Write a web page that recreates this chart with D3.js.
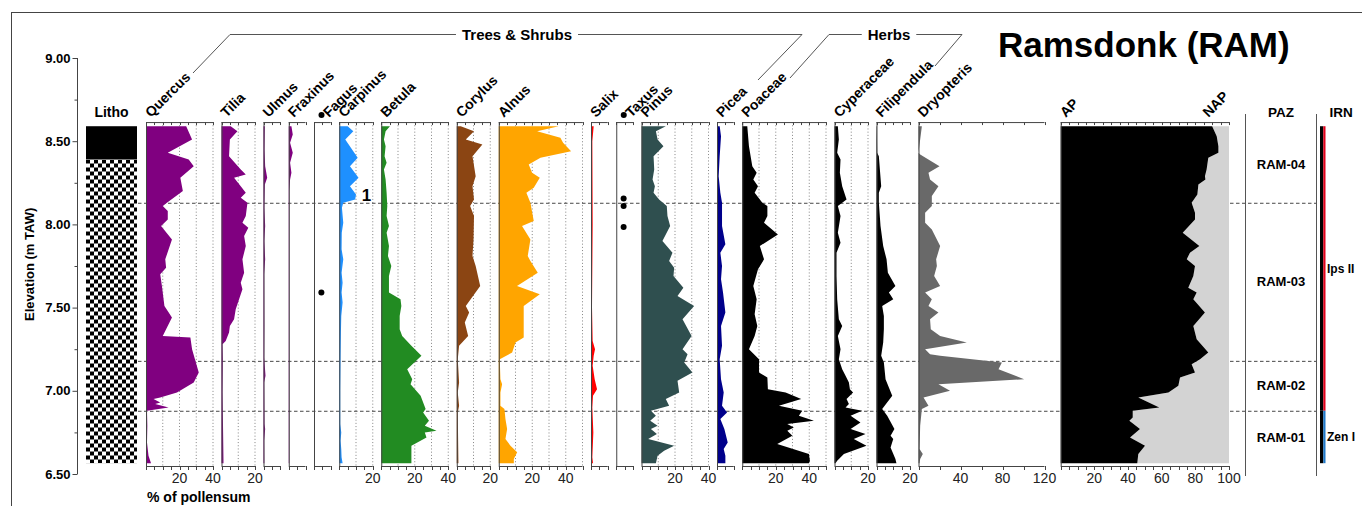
<!DOCTYPE html>
<html>
<head>
<meta charset="utf-8">
<script src="https://cdn.jsdelivr.net/npm/d3@7"></script>
<style>
  body { margin: 0; background: #fff; }
  svg { display: block; }
  text { font-family: "Liberation Sans", Arial, Helvetica, sans-serif; }
</style>
</head>
<body>
<svg id="chart" width="1362" height="506"></svg>
<script>
// ---- Core data: [elevation (m TAW), % of pollensum] per taxon ----
const quercus = [[8.59,24],[8.51,27.5],[8.43,13],[8.39,25.5],[8.35,28.5],[8.28,20.5],[8.20,22],[8.13,12.5],[8.11,10],[8.08,13],[8.03,13],[7.99,9],[7.91,15.5],[7.79,11.5],[7.74,12],[7.70,8.5],[7.63,9.5],[7.51,11],[7.44,15.5],[7.33,10],[7.32,26.5],[7.25,27.5],[7.11,31.5],[7.05,28.5],[6.99,18.5],[6.96,8.5],[6.95,4.5],[6.93,8.5],[6.92,5.5],[6.90,13.5],[6.88,0.6],[6.79,0.8],[6.69,0.6],[6.61,1.5],[6.565,3]];
const tilia = [[8.59,5.5],[8.56,9.5],[8.51,5],[8.41,4.5],[8.33,11.5],[8.30,14.5],[8.28,7.5],[8.23,11.5],[8.19,14.5],[8.16,11.5],[8.13,15.5],[8.05,14.5],[8.01,12.5],[7.98,16],[7.93,13.5],[7.87,14.5],[7.79,12.5],[7.71,13.5],[7.65,11.5],[7.61,12.5],[7.55,10.5],[7.49,8.5],[7.43,7.5],[7.39,5],[7.35,4.5],[7.30,2.5],[7.28,0.6],[7.19,0.8],[6.99,0.6],[6.79,0.9],[6.565,1.2]];
const ulmus = [[8.59,0.8],[8.45,0.6],[8.35,1],[8.28,2.2],[8.24,0.8],[8.10,0.5],[7.99,1],[7.90,0.5],[7.79,1],[7.70,0.4],[7.40,0.5],[7.20,0.4],[7.09,1.2],[7.05,0.4],[6.80,0.6],[6.77,1],[6.70,0.4],[6.565,0.5]];
const fraxinus = [[8.59,1.6],[8.54,2.4],[8.49,0.8],[8.43,2.4],[8.37,0.8],[8.31,1.6],[8.27,0.8],[8.20,0.3],[6.565,0.3]];
const fagusDots = [7.59];
const carpinus = [[8.59,5],[8.56,8.4],[8.51,3.6],[8.40,11],[8.35,6.4],[8.28,11.5],[8.23,6.4],[8.18,10],[8.15,9.5],[8.13,2.4],[8.10,1.6],[8.01,2.4],[7.95,1.5],[7.85,1.4],[7.79,2.4],[7.71,1.4],[7.65,2],[7.59,1.4],[7.53,2],[7.45,1.2],[7.35,1],[7.20,0.8],[7.00,0.6],[6.80,0.6],[6.75,1.2],[6.70,0.8],[6.65,1.2],[6.60,1.4],[6.565,2]];
const betula = [[8.59,5.2],[8.56,2.6],[8.51,1.6],[8.47,2.6],[8.41,2],[8.37,3.2],[8.33,1.6],[8.27,2.6],[8.19,3.2],[8.11,3.6],[8.05,3.2],[7.99,4.6],[7.95,3.2],[7.87,4.6],[7.81,4],[7.75,6],[7.69,4.6],[7.59,4.6],[7.55,11.5],[7.51,12],[7.45,11],[7.37,11],[7.33,12.5],[7.27,18],[7.21,24],[7.13,15.5],[7.07,18.5],[7.04,17.5],[6.97,23.5],[6.89,26.5],[6.87,25],[6.82,28.5],[6.79,26],[6.76,33],[6.75,26],[6.72,27],[6.67,18],[6.565,18]];
const corylus = [[8.59,2.4],[8.56,10.3],[8.51,5.4],[8.48,15.3],[8.41,9.4],[8.29,11.3],[8.23,9.4],[8.15,10.3],[8.11,8],[8.05,10.3],[7.91,10],[7.81,9.4],[7.75,11.3],[7.63,14],[7.51,5.4],[7.47,7.4],[7.41,4.8],[7.33,6.8],[7.27,1.4],[7.19,0.6],[7.05,1.4],[6.99,0.6],[6.91,1.4],[6.87,0.6],[6.565,1]];
const alnus = [[8.59,35.8],[8.56,22.9],[8.52,36.8],[8.49,38.4],[8.44,43.2],[8.40,24.9],[8.36,17.9],[8.31,19.9],[8.28,24.5],[8.22,20.9],[8.19,16.5],[8.13,18.9],[8.02,20.9],[7.99,13.9],[7.91,18.9],[7.81,17.3],[7.78,18.9],[7.71,23.3],[7.63,10.9],[7.58,24.5],[7.51,14.9],[7.39,14.9],[7.32,14.9],[7.29,10],[7.23,8],[7.19,0.6],[7.07,1],[7.04,2],[6.99,1],[6.91,1],[6.89,3.4],[6.83,4],[6.77,5],[6.71,4],[6.67,7],[6.63,11],[6.59,9],[6.565,9]];
const salix = [[8.59,1.6],[8.50,0.8],[8.00,1],[7.50,0.6],[7.30,1],[7.25,2.4],[7.21,1.6],[7.15,1],[7.07,2.2],[7.01,3.6],[6.97,1.2],[6.90,0.8],[6.75,1.4],[6.70,1.2],[6.60,0.8],[6.565,1.2]];
const taxusDots = [8.155, 8.11, 7.985];
const pinus = [[8.59,14.5],[8.56,8.6],[8.51,9.6],[8.47,13.1],[8.41,7.2],[8.33,7.6],[8.27,6.6],[8.23,8],[8.19,7.2],[8.15,10.5],[8.11,15.1],[8.05,15.5],[7.99,17.1],[7.90,12.5],[7.83,18.5],[7.78,16.5],[7.74,19.5],[7.69,19.1],[7.62,25],[7.57,21.5],[7.51,31.4],[7.43,24.5],[7.33,29.9],[7.25,24.5],[7.22,27.5],[7.17,25.5],[7.11,30.4],[7.06,21.5],[6.99,22.5],[6.95,14.5],[6.91,16.5],[6.88,5.6],[6.85,8.6],[6.82,5.2],[6.79,9.6],[6.77,5.6],[6.74,9.2],[6.71,4],[6.67,19.5],[6.64,13.5],[6.61,9.6],[6.565,8.6]];
const picea = [[8.59,1.6],[8.53,2.4],[8.41,1.6],[8.29,1],[8.19,2],[8.13,3],[7.99,3],[7.88,5],[7.83,2],[7.75,3],[7.67,2.4],[7.59,3.6],[7.47,5],[7.39,2.4],[7.27,3],[7.19,1.6],[7.07,2.4],[6.99,4],[6.91,3],[6.87,6],[6.83,2],[6.77,4.4],[6.69,6.4],[6.65,4],[6.61,5],[6.565,5]];
const poaceae = [[8.59,3],[8.47,4],[8.35,6],[8.31,8.6],[8.27,6.6],[8.23,9.4],[8.19,7.4],[8.13,12],[8.11,15],[8.05,15],[8.01,13],[7.94,21.3],[7.87,10.5],[7.79,13],[7.73,9.4],[7.63,6.6],[7.55,8.6],[7.46,7.4],[7.39,9],[7.33,7.4],[7.25,4],[7.19,10],[7.11,10],[7.08,15],[7.01,15.3],[6.99,25.9],[6.95,35.2],[6.91,21.9],[6.88,35.8],[6.85,33.8],[6.82,42.8],[6.80,26.9],[6.78,30.8],[6.76,26.9],[6.73,29.9],[6.68,20.9],[6.62,39.8],[6.58,40.4],[6.565,39.8]];
const cyperaceae = [[8.59,2],[8.51,2.6],[8.43,1.6],[8.39,3.6],[8.31,3.2],[8.23,4.6],[8.15,7.2],[8.11,2],[8.05,3.6],[7.95,2],[7.89,3.6],[7.83,1.2],[7.69,1.2],[7.55,1.6],[7.43,2.6],[7.39,4.6],[7.33,2],[7.25,3.6],[7.19,2.6],[7.13,4.6],[7.09,6.6],[7.05,8.6],[7.01,9.2],[6.99,11.1],[6.95,7.2],[6.92,8.6],[6.90,6.6],[6.88,16.5],[6.85,9.6],[6.81,15.5],[6.77,9.6],[6.74,18.5],[6.71,11.5],[6.67,19.1],[6.62,5.6],[6.58,1.6],[6.565,0.6]];
const filipendula = [[8.59,0.2],[8.43,0.4],[8.41,1.4],[8.23,2.8],[8.19,1.4],[8.13,1.4],[7.99,2.4],[7.87,4],[7.79,6],[7.71,6.8],[7.63,11.3],[7.59,7.4],[7.55,10],[7.51,3.4],[7.45,4.4],[7.37,4.4],[7.29,4],[7.21,2.8],[7.17,4.4],[7.07,5.4],[6.97,9.4],[6.89,3.4],[6.85,6.4],[6.77,10.7],[6.73,8.4],[6.71,10],[6.66,8.4],[6.59,11.3],[6.565,11.9]];
const dryopteris = [[8.59,3.2],[8.51,1.6],[8.43,0],[8.42,1.6],[8.35,20],[8.31,9.5],[8.27,11],[8.23,19],[8.17,12.7],[8.11,12.7],[8.07,6.3],[8.01,6.3],[7.97,12.7],[7.87,20.6],[7.79,16.8],[7.75,17.5],[7.69,14.9],[7.63,20.6],[7.59,6.3],[7.55,12.7],[7.51,9.5],[7.47,19],[7.43,11],[7.37,11.7],[7.33,20.6],[7.29,46],[7.25,6.3],[7.22,11],[7.21,20.6],[7.17,79.4],[7.13,76.2],[7.07,100.6],[7.04,19],[7.00,30],[6.96,4.8],[6.91,9.5],[6.89,3.2],[6.79,1.6],[6.65,1],[6.62,4.1],[6.59,1.6],[6.565,1]];
const arborealPollen = [[8.59,90],[8.53,92.7],[8.47,93.7],[8.43,93.7],[8.40,87.7],[8.33,86.7],[8.29,85.7],[8.27,86],[8.24,81.8],[8.18,81.2],[8.13,77.8],[8.07,79.8],[8.03,79.8],[7.95,72.5],[7.87,82.4],[7.83,76.8],[7.79,74.9],[7.75,79.8],[7.69,78.8],[7.62,75.8],[7.59,80.8],[7.55,78.8],[7.47,85.7],[7.39,78.8],[7.31,80.8],[7.23,87.7],[7.19,82.8],[7.16,77.8],[7.11,79.8],[7.08,70.9],[7.03,69.9],[6.99,64],[6.96,46.1],[6.90,58.6],[6.88,42.8],[6.84,42.8],[6.82,40.8],[6.77,47.1],[6.72,41.2],[6.67,50.1],[6.62,46.1],[6.565,45.5]];

// ---- Stratigraphy and zonation ----
const lithoUnits = [{top: 8.59, bottom: 8.39, kind: "solid"}, {top: 8.39, bottom: 6.565, kind: "checker"}];
const zoneBounds = [8.13, 7.18, 6.88];
const pazNames = ["RAM-04", "RAM-03", "RAM-02", "RAM-01"];
const irnUnits = [{name: "Ips II", top: 8.59, bottom: 6.88, color: "#e0001b"}, {name: "Zen I", top: 6.88, bottom: 6.565, color: "#1f78c8"}];
const yMajorTicks = [9.0, 8.5, 8.0, 7.5, 7.0, 6.5];
const yMinorTicks = [8.75, 8.25, 7.75, 7.25, 6.75];
const dataTop = 8.59, dataBottom = 6.565;

// ---- Panels (trees & shrubs, then herbs, then fern) ----
const panels = [
  {name: "Quercus", series: quercus, max: 40},
  {name: "Tilia", series: tilia, max: 20},
  {name: "Ulmus", series: ulmus, max: 10, noGrid: true},
  {name: "Fraxinus", series: fraxinus, max: 10, noGrid: true},
  {name: "Fagus", dots: fagusDots, max: 10, noGrid: true},
  {name: "Carpinus", series: carpinus, max: 20},
  {name: "Betula", series: betula, max: 40},
  {name: "Corylus", series: corylus, max: 20},
  {name: "Alnus", series: alnus, max: 50},
  {name: "Salix", series: salix, max: 10, noGrid: true},
  {name: "Taxus", dots: taxusDots, max: 10, noGrid: true},
  {name: "Pinus", series: pinus, max: 40},
  {name: "Picea", series: picea, max: 10, noGrid: true},
  {name: "Poaceae", series: poaceae, max: 50},
  {name: "Cyperaceae", series: cyperaceae, max: 20},
  {name: "Filipendula", series: filipendula, max: 20, noGrid: true},
  {name: "Dryopteris", series: dryopteris, max: 120, noGrid: true, wide: true}
];
const fillColor = {
  Quercus: "#800080", Tilia: "#800080", Ulmus: "#800080", Fraxinus: "#800080",
  Fagus: "#000", Carpinus: "#1e90ff", Betula: "#228b22", Corylus: "#8b4513",
  Alnus: "#ffa500", Salix: "#ff0000", Taxus: "#000", Pinus: "#2f4f4f",
  Picea: "#00008b", Poaceae: "#000", Cyperaceae: "#000", Filipendula: "#000",
  Dryopteris: "#696969"
};

const svg = d3.select("#chart");
const FONT = '"Liberation Sans", Arial, Helvetica, sans-serif';
const AXIS_COLOR = "#444";

// Elevation scale shared by every column
const y = d3.scaleLinear().domain([9, 6.5]).range([58, 474]);
const axisTop = y(8.615), axisBottom = y(6.548);

// Horizontal layout: width proportional to each column's range
const PX_PER_PCT = 1.675, GAP = 8.5;
let cursor = 146;
panels.forEach(p => {
  const w = p.wide ? 126 : p.max * PX_PER_PCT;
  p.x = d3.scaleLinear().domain([0, p.max]).range([cursor, cursor + w]);
  cursor += w + GAP;
});
const apScale = d3.scaleLinear().domain([0, 100]).range([1060.7, 1229]);

// Frame
svg.append("line").attr("x1", 11).attr("x2", 1362).attr("y1", 12.5).attr("y2", 12.5).attr("stroke", "#444");
svg.append("line").attr("x1", 11.5).attr("x2", 11.5).attr("y1", 12).attr("y2", 506).attr("stroke", "#444");

// Title
svg.append("text").attr("x", 998).attr("y", 57).attr("font-size", 35).attr("font-weight", "bold").text("Ramsdonk (RAM)");

// ---- Elevation axis ----
const yAxisG = svg.append("g").attr("transform", "translate(77.5,0)");
yAxisG.call(d3.axisLeft(y).tickValues(yMajorTicks).tickFormat(d3.format(".2f")).tickSize(5).tickPadding(2));
yAxisG.append("g").call(d3.axisLeft(y).tickValues(yMinorTicks).tickFormat("").tickSize(3));
yAxisG.selectAll("path.domain").attr("stroke", AXIS_COLOR).attr("d", `M0,${y(9)}V${y(6.5)}`);
yAxisG.selectAll(".tick line").attr("stroke", AXIS_COLOR);
yAxisG.selectAll("text").attr("font-family", FONT).attr("font-size", 13).attr("font-weight", "bold").attr("fill", "#000");
svg.append("text").attr("transform", `translate(34,${y(7.76)}) rotate(-90)`).attr("text-anchor", "middle")
  .attr("font-size", 13).attr("font-weight", "bold").text("Elevation (m TAW)");

// ---- Lithology ----
const defs = svg.append("defs");
const pat = defs.append("pattern").attr("id", "checker").attr("patternUnits", "userSpaceOnUse")
  .attr("width", 8).attr("height", 8).attr("x", 86).attr("y", y(8.39));
pat.append("rect").attr("width", 8).attr("height", 8).attr("fill", "#fff");
pat.append("rect").attr("width", 4).attr("height", 4).attr("fill", "#000");
pat.append("rect").attr("x", 4).attr("y", 4).attr("width", 4).attr("height", 4).attr("fill", "#000");
svg.append("g").selectAll("rect").data(lithoUnits).join("rect")
  .attr("x", 86).attr("width", 51)
  .attr("y", d => y(d.top)).attr("height", d => y(d.bottom) - y(d.top))
  .attr("fill", d => d.kind === "solid" ? "#000" : "url(#checker)");
svg.append("text").attr("x", 111.5).attr("y", 117).attr("text-anchor", "middle")
  .attr("font-size", 14).attr("font-weight", "bold").text("Litho");

// ---- Dotted grid lines (behind curves) ----
const grid = svg.append("g");
panels.filter(p => !p.noGrid).forEach(p => {
  d3.range(10, p.max + 0.01, 10).forEach(v => {
    grid.append("line").attr("x1", p.x(v)).attr("x2", p.x(v)).attr("y1", axisTop).attr("y2", axisBottom)
      .attr("stroke", "#666").attr("stroke-width", 0.8).attr("stroke-dasharray", "1,2.2");
  });
});

// ---- Zone boundaries ----
svg.append("g").selectAll("line").data(zoneBounds).join("line")
  .attr("x1", 138).attr("x2", 1316).attr("y1", d => y(d) + 0.5).attr("y2", d => y(d) + 0.5)
  .attr("stroke", "#333").attr("stroke-width", 0.9).attr("stroke-dasharray", "3.5,2.5");

// ---- Curves ----
const curves = svg.append("g");
panels.forEach(p => {
  if (p.series) {
    const area = d3.area().y(d => y(d[0])).x0(p.x(0)).x1(d => p.x(d[1]));
    curves.append("path").attr("d", area(p.series)).attr("fill", fillColor[p.name]);
  }
  if (p.dots) {
    curves.selectAll(null).data(p.dots).join("circle")
      .attr("cx", p.x(4.4)).attr("cy", d => y(d)).attr("r", 3).attr("fill", "#000");
  }
});

// AP / NAP summary
const apArea = d3.area().y(d => y(d[0])).x0(apScale(0)).x1(d => apScale(d[1]));
const napArea = d3.area().y(d => y(d[0])).x0(d => apScale(d[1])).x1(apScale(100));
curves.append("path").attr("d", napArea(arborealPollen)).attr("fill", "#d3d3d3");
curves.append("path").attr("d", apArea(arborealPollen)).attr("fill", "#000");

// ---- Column axes ----
function drawFrame(scale, max, step, labelStep) {
  const g = svg.append("g").attr("stroke", AXIS_COLOR).attr("fill", "none");
  const x0 = scale(0), x1 = scale(max);
  g.append("line").attr("x1", x0 + 0.5).attr("x2", x0 + 0.5).attr("y1", axisTop).attr("y2", axisBottom);
  g.append("line").attr("x1", x0).attr("x2", x1).attr("y1", axisTop + 0.5).attr("y2", axisTop + 0.5);
  g.append("line").attr("x1", x0).attr("x2", x1).attr("y1", axisBottom + 0.5).attr("y2", axisBottom + 0.5);
  d3.range(0, max + 0.01, step).forEach(v => {
    const xv = Math.round(scale(v)) + 0.5;
    g.append("line").attr("x1", xv).attr("x2", xv).attr("y1", axisTop).attr("y2", axisTop + 3);
    g.append("line").attr("x1", xv).attr("x2", xv).attr("y1", axisBottom).attr("y2", axisBottom + 4);
  });
  d3.range(labelStep, max + 0.01, labelStep).forEach(v => {
    svg.append("text").attr("x", scale(v)).attr("y", axisBottom + 17).attr("text-anchor", "middle")
      .attr("font-size", 14).attr("fill", "#222").text(v);
  });
}
panels.forEach(p => drawFrame(p.x, p.max, p.wide ? 20 : 5, p.wide ? 40 : 20));
drawFrame(apScale, 100, 5, 20);

// ---- Column headings (rotated) ----
function heading(x, label) {
  svg.append("text").attr("transform", `translate(${x},${axisTop - 4}) rotate(-45)`)
    .attr("font-size", 14).attr("font-weight", "bold").text(label);
}
panels.forEach(p => {
  if (p.dots) {
    svg.append("circle").attr("cx", p.x(0) + 7.5).attr("cy", axisTop - 7).attr("r", 3).attr("fill", "#000");
    heading(p.x(0) + 15, p.name);
  } else {
    heading(p.x(0) + 5, p.name);
  }
});
heading(apScale(0) + 5, "AP");
heading(apScale(86) + 3, "NAP");

// Annotation on Carpinus
const carp = panels.find(p => p.name === "Carpinus");
svg.append("text").attr("x", carp.x(16.2)).attr("y", y(8.14)).attr("text-anchor", "middle")
  .attr("font-size", 17).attr("font-weight", "bold").text("1");

// Axis caption
svg.append("text").attr("x", 147).attr("y", 502).attr("font-size", 14).attr("font-weight", "bold").text("% of pollensum");

// ---- Group brackets ----
function bracket(points, label, cx) {
  const g = svg.append("g");
  g.append("path").attr("d", d3.line()(points)).attr("fill", "none").attr("stroke", "#555").attr("stroke-width", 1);
  const t = g.append("text").attr("x", cx).attr("y", 39.5).attr("text-anchor", "middle")
    .attr("font-size", 15).attr("font-weight", "bold").text(label);
  const w = t.node().getComputedTextLength();
  g.insert("rect", "text").attr("x", cx - w / 2 - 6).attr("y", 27).attr("width", w + 12).attr("height", 15).attr("fill", "#fff");
}
bracket([[193, 73], [230, 34.5], [802, 34.5], [758, 80]], "Trees & Shrubs", 517);
bracket([[790, 78], [829, 34.5], [962, 34.5], [935, 66]], "Herbs", 889);

// ---- PAZ column ----
[1245.5, 1316.5].forEach(xv => svg.append("line").attr("x1", xv).attr("x2", xv).attr("y1", 114).attr("y2", 476).attr("stroke", "#555"));
svg.append("text").attr("x", 1281).attr("y", 117).attr("text-anchor", "middle").attr("font-size", 13.5).attr("font-weight", "bold").text("PAZ");
const zoneEdges = [dataTop, ...zoneBounds, dataBottom];
pazNames.forEach((n, i) => {
  svg.append("text").attr("x", 1281).attr("y", y((zoneEdges[i] + zoneEdges[i + 1]) / 2)).attr("dy", "0.35em")
    .attr("text-anchor", "middle").attr("font-size", 13).attr("font-weight", "bold").text(n);
});

// ---- IRN column ----
svg.append("text").attr("x", 1341).attr("y", 117).attr("text-anchor", "middle").attr("font-size", 13.5).attr("font-weight", "bold").text("IRN");
irnUnits.forEach(u => {
  svg.append("rect").attr("x", 1320).attr("width", 3.3).attr("y", y(u.top)).attr("height", y(u.bottom) - y(u.top)).attr("fill", "#000");
  svg.append("rect").attr("x", 1323.3).attr("width", 2.2).attr("y", y(u.top)).attr("height", y(u.bottom) - y(u.top)).attr("fill", u.color);
  svg.append("text").attr("x", 1327).attr("y", y((u.top + u.bottom) / 2)).attr("dy", "0.35em")
    .attr("font-size", 12).attr("font-weight", "bold").text(u.name);
});
</script>
</body>
</html>
